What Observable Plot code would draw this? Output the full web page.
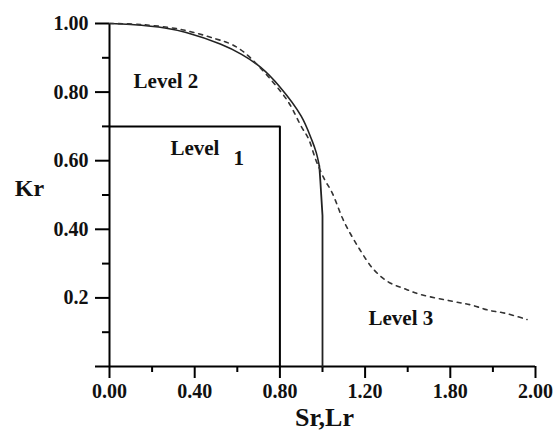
<!DOCTYPE html>
<html><head><meta charset="utf-8">
<script src="https://cdn.jsdelivr.net/npm/d3@7"></script>
<script src="https://cdn.jsdelivr.net/npm/@observablehq/plot@0.6"></script>
<style>html,body{margin:0;padding:0;background:#fff} svg{display:block}</style>
</head><body><div id="chart"></div>
<script>
// Tick values and labels (as printed in the reference)
const xTicks = [0, 0.4, 0.8, 1.2, 1.6, 2.0];
const xTickLabels = ["0.00", "0.40", "0.80", "1.20", "1.80", "2.00"];
const xMinorTicks = [0.2, 0.6, 1.0, 1.4, 1.8];
const yTicks = [0, 0.2, 0.4, 0.6, 0.8, 1.0];
const yTickLabels = ["", "0.2", "0.40", "0.60", "0.80", "1.00"];
const yMinorTicks = [0.1, 0.3, 0.5, 0.7, 0.9];

// Level 2 curve (solid): smooth part, then the Lr cut-off
const level2Sr = [0, 0.10, 0.26, 0.36, 0.52, 0.62, 0.71, 0.80, 0.90, 0.95, 0.97, 0.985];
const level2Kr = [1.0, 0.997, 0.987, 0.974, 0.94, 0.91, 0.872, 0.815, 0.73, 0.66, 0.625, 0.585];
const cutoffSr = [0.985, 0.99, 1.0, 1.0];
const cutoffKr = [0.585, 0.54, 0.44, 0];

// Level 3 curve (dashed)
const level3Sr = [0, 0.15, 0.34, 0.50, 0.57, 0.64, 0.83, 0.90, 0.935, 0.97, 1.01, 1.045, 1.10, 1.17, 1.24, 1.31, 1.38, 1.46, 1.62, 1.70, 1.78, 1.86, 1.96];
const level3Kr = [1.0, 0.997, 0.982, 0.955, 0.94, 0.912, 0.78, 0.70, 0.663, 0.60, 0.545, 0.507, 0.424, 0.346, 0.283, 0.246, 0.228, 0.21, 0.189, 0.179, 0.164, 0.155, 0.137];

// Level 1 rectangle bounds
const level1Sr = 0.8;
const level1Kr = 0.7;

// Region labels
const levelLabels = ["Level 2", "Level", "1", "Level 3"];
const levelLabelSr = [0.113, 0.286, 0.582, 1.216];
const levelLabelKr = [0.833, 0.637, 0.608, 0.14];

const level2 = level2Sr.map((s, i) => ({sr: s, kr: level2Kr[i]}));
const cutoff = cutoffSr.map((s, i) => ({sr: s, kr: cutoffKr[i]}));
const level3 = level3Sr.map((s, i) => ({sr: s, kr: level3Kr[i]}));
const box = [{sr: 0, kr: level1Kr}, {sr: level1Sr, kr: level1Kr}, {sr: level1Sr, kr: 0}];
const labels = levelLabels.map((t, i) => ({text: t, sr: levelLabelSr[i], kr: levelLabelKr[i]}));

const font = "'Liberation Serif', 'Times New Roman', serif";

const chart = Plot.plot({
  width: 560,
  height: 432,
  marginLeft: 109,
  marginRight: 25,
  marginTop: 23,
  marginBottom: 66,
  style: {fontFamily: font, fontSize: "20px", color: "#000", background: "#fff"},
  x: {domain: [0, 2], label: null},
  y: {domain: [0, 1], label: null},
  marks: [
    Plot.axisX(xMinorTicks, {tickSize: 6, strokeWidth: 2, tickFormat: () => "", label: null}),
    Plot.axisY(yMinorTicks, {tickSize: 7, strokeWidth: 2, tickFormat: () => "", label: null}),
    Plot.axisX(xTicks, {tickSize: 12, tickPadding: 5, strokeWidth: 2, tickFormat: d => xTickLabels[xTicks.indexOf(d)], fill: "#111", fontWeight: "bold", label: null}),
    Plot.axisY(yTicks, {tickSize: 14, tickPadding: 7, strokeWidth: 2, tickFormat: d => yTickLabels[yTicks.indexOf(d)], fill: "#111", fontWeight: "bold", label: null}),
    Plot.ruleX([0], {y1: 0, y2: 1, strokeWidth: 2}),
    Plot.ruleY([0], {x1: 0, x2: 2, strokeWidth: 2}),
    Plot.line(box, {x: "sr", y: "kr", stroke: "#000", strokeWidth: 2}),
    Plot.line(level2, {x: "sr", y: "kr", stroke: "#222", strokeWidth: 1.6, curve: "catmull-rom"}),
    Plot.line(cutoff, {x: "sr", y: "kr", stroke: "#222", strokeWidth: 1.8}),
    Plot.line(level3, {x: "sr", y: "kr", stroke: "#333", strokeWidth: 1.6, strokeDasharray: "4,5", curve: "catmull-rom"}),
    Plot.text(labels, {x: "sr", y: "kr", text: "text", textAnchor: "start", lineAnchor: "middle", fontSize: 21, fontWeight: "bold", fill: "#111"}),
    Plot.text(["Kr"], {frameAnchor: "left", dx: -80, dy: -7, text: d => d, textAnchor: "middle", lineAnchor: "middle", fontSize: 24, fontWeight: "bold", fill: "#111"}),
    Plot.text(["Sr,Lr"], {frameAnchor: "bottom", dx: 2, dy: 51, text: d => d, textAnchor: "middle", lineAnchor: "middle", fontSize: 26, fontWeight: "bold", fill: "#111"})
  ]
});
document.getElementById("chart").appendChild(chart);
</script>
</body></html>
